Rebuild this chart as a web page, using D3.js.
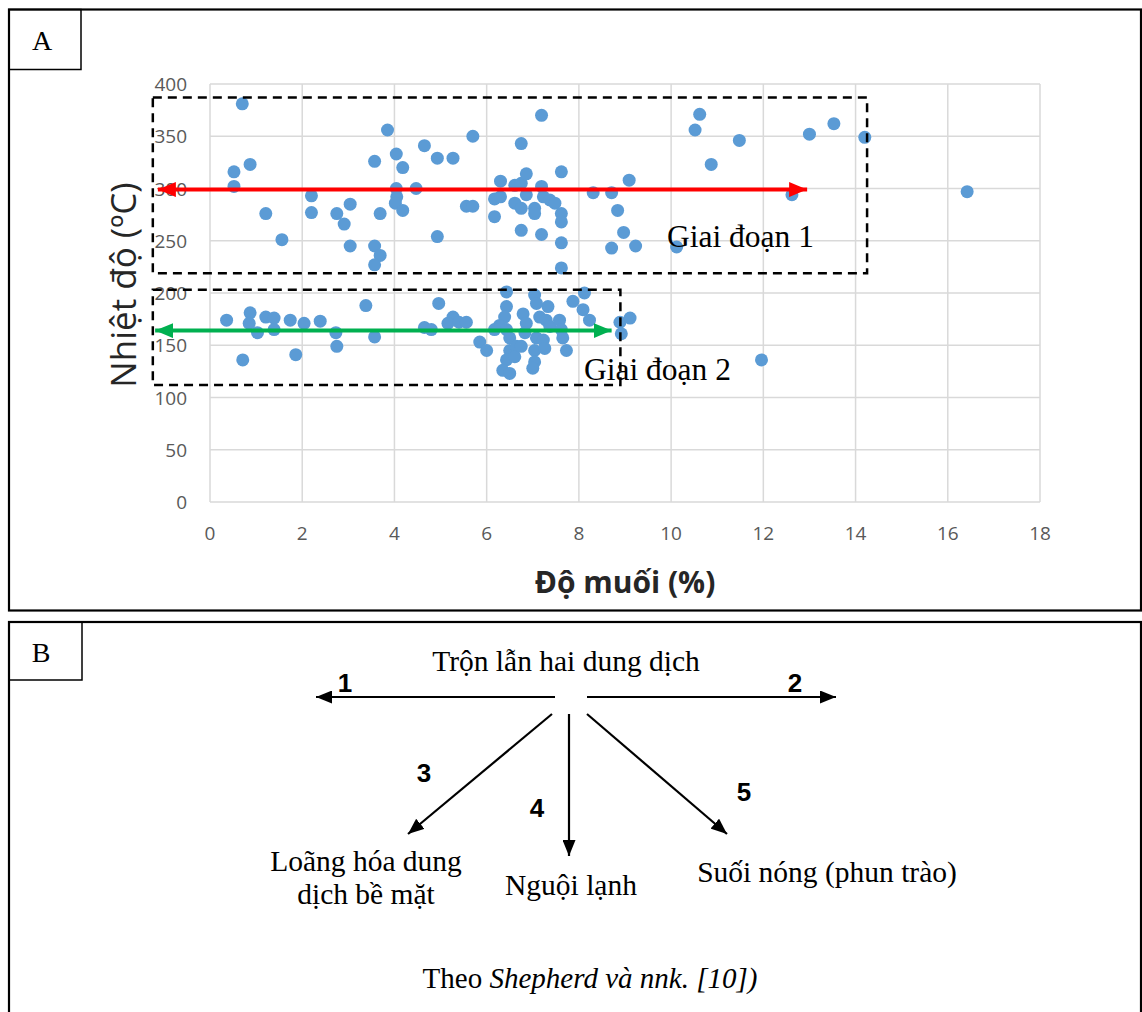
<!DOCTYPE html>
<html><head><meta charset="utf-8">
<script src="https://cdn.jsdelivr.net/npm/d3@7"></script>
<style>body{margin:0;background:#fff}svg{display:block}</style>
</head><body>
<svg id="c" width="1142" height="1012"></svg>
<script>
// ---- data ----
const xTicks = [0,2,4,6,8,10,12,14,16,18];
const yTicks = [0,50,100,150,200,250,300,350,400];
const stage1Salinity = [0.70,0.87,0.52,0.52,1.21,1.56,2.20,2.20,2.75,2.91,3.04,3.04,3.57,3.57,3.69,3.57,3.69,3.85,4.04,4.18,4.04,4.05,4.02,4.18,4.47,4.65,4.93,4.93,5.27,5.70,5.56,5.70,6.30,6.17,6.17,6.30,6.61,6.75,6.86,6.75,7.19,6.61,6.75,6.86,7.04,7.04,7.19,7.23,7.37,7.48,7.62,7.62,7.62,6.75,7.19,7.62,7.62,8.31,8.71,9.09,8.84,8.97,8.71,9.23,10.12,10.62,10.52,11.48,10.87,13.0,13.53,14.2,12.62,16.42];
const stage1Temp = [381,323,316,302,276,251,293,277,276,266,285,245,326,245,236,227,276,356,333,320,300,292,286,279,300,341,329,254,329,350,283,283,307,273,290,292,303,305,314,343,370,286,281,294,281,276,302,292,289,286,316,276,268,260,256,248,224,296,296,308,279,258,243,245,244,371,356,346,323,352,362,349,294,297];
const stage2Salinity = [0.36,0.71,0.87,0.85,1.03,1.21,1.39,1.39,1.74,1.86,2.04,2.39,2.73,2.75,3.38,3.57,4.65,4.80,4.96,5.27,5.16,5.40,5.56,5.85,6.00,6.43,6.43,6.39,6.28,6.17,6.43,6.50,6.50,6.43,6.35,6.50,6.65,6.61,6.79,6.86,6.83,6.75,7.08,7.04,7.04,7.00,7.04,7.08,7.15,7.33,7.29,7.37,7.23,7.26,7.58,7.62,7.65,7.73,7.87,8.12,8.09,8.23,8.89,9.11,8.92,11.96];
const stage2Temp = [174,136,181,171,162,177,176,165,174,141,171,173,162,149,188,158,167,165,190,177,171,172,172,153,145,201,187,177,169,165,165,157,145,136,126,123,149,139,180,171,162,149,157,145,134,128,198,190,177,187,174,168,155,147,174,165,157,145,192,200,184,174,172,176,161,136];
// annotation boxes (data units) and arrows
const boxStage1 = [-1.24, 14.25, 219, 387];
const boxStage2 = [-1.24, 8.9, 112, 203];
const redArrow = [-1.13, 12.95, 299];
const greenArrow = [-1.19, 8.71, 164];
const stageLabels = ["Giai đoạn 1","Giai đoạn 2"];

const svg = d3.select("#c");
const defs = svg.append("defs");
function marker(id, color, w, h){
  defs.append("marker").attr("id",id).attr("viewBox",`0 0 ${w} ${h}`)
    .attr("refX",w).attr("refY",h/2).attr("markerWidth",w).attr("markerHeight",h)
    .attr("markerUnits","userSpaceOnUse").attr("orient","auto-start-reverse")
    .append("path").attr("d",`M0,0L${w},${h/2}L0,${h}Z`).attr("fill",color);
}
marker("mr","#ff0000",18,15);
marker("mg","#00b050",18,15);
marker("mk","#000000",16,13);

// panels
svg.append("rect").attr("x",9).attr("y",9.5).attr("width",1132).attr("height",601).attr("fill","none").attr("stroke","#000").attr("stroke-width",2.2);
svg.append("rect").attr("x",9).attr("y",9.5).attr("width",72).attr("height",60).attr("fill","none").attr("stroke","#000").attr("stroke-width",1.5);
svg.append("text").attr("x",42).attr("y",50).attr("text-anchor","middle").attr("font-family","Liberation Serif").attr("font-size",28).text("A");

svg.append("rect").attr("x",9).attr("y",622).attr("width",1132).attr("height",420).attr("fill","none").attr("stroke","#000").attr("stroke-width",2.2);
svg.append("rect").attr("x",9).attr("y",622).attr("width",73).attr("height",58).attr("fill","none").attr("stroke","#000").attr("stroke-width",1.5);
svg.append("text").attr("x",41).attr("y",662).attr("text-anchor","middle").attr("font-family","Liberation Serif").attr("font-size",28).text("B");

// chart
const x = d3.scaleLinear().domain([0,18]).range([210,1040]);
const y = d3.scaleLinear().domain([0,400]).range([502,84]);
const g = svg.append("g");
g.append("g").selectAll("line").data(yTicks).join("line")
  .attr("x1",x(0)).attr("x2",x(18)).attr("y1",d=>y(d)).attr("y2",d=>y(d))
  .attr("stroke","#d9d9d9").attr("stroke-width",1.5);
g.append("g").selectAll("line").data(xTicks).join("line")
  .attr("y1",y(0)).attr("y2",y(400)).attr("x1",d=>x(d)).attr("x2",d=>x(d))
  .attr("stroke","#d9d9d9").attr("stroke-width",1.5);
g.append("g").selectAll("text").data(yTicks).join("text")
  .attr("x",187).attr("y",d=>y(d)+7).attr("text-anchor","end")
  .attr("font-family","Open Sans").attr("font-size",19).attr("fill","#595959").text(d=>d);
g.append("g").selectAll("text").data(xTicks).join("text")
  .attr("x",d=>x(d)).attr("y",540).attr("text-anchor","middle")
  .attr("font-family","Open Sans").attr("font-size",19).attr("fill","#595959").text(d=>d);
svg.append("text").attr("transform",`translate(136,285) rotate(-90)`).attr("text-anchor","middle")
  .attr("font-family","Open Sans").attr("font-size",35).attr("fill","#262626").text("Nhiệt độ (ºC)");
svg.append("text").attr("x",625).attr("y",593).attr("text-anchor","middle")
  .attr("font-family","Open Sans").attr("font-weight","bold").attr("font-size",30).attr("fill","#262626").text("Độ muối (%)");

const pts = stage1Salinity.map((s,i)=>[s,stage1Temp[i]]).concat(stage2Salinity.map((s,i)=>[s,stage2Temp[i]]));
g.append("g").selectAll("circle").data(pts).join("circle")
  .attr("cx",d=>x(d[0])).attr("cy",d=>y(d[1])).attr("r",6.5).attr("fill","#5b9bd5");

// annotation boxes
[boxStage1, boxStage2].forEach(b=>{
  svg.append("rect").attr("x",x(b[0])).attr("y",y(b[3])).attr("width",x(b[1])-x(b[0])).attr("height",y(b[2])-y(b[3]))
    .attr("fill","none").attr("stroke","#000").attr("stroke-width",2.5).attr("stroke-dasharray","9,6");
});
[[redArrow,"#ff0000","mr"],[greenArrow,"#00b050","mg"]].forEach(([a,c,m])=>{
  svg.append("line").attr("x1",x(a[0])).attr("x2",x(a[1])).attr("y1",y(a[2])).attr("y2",y(a[2]))
    .attr("stroke",c).attr("stroke-width",4).attr("marker-start",`url(#${m})`).attr("marker-end",`url(#${m})`);
});
svg.append("text").attr("x",667).attr("y",247).attr("font-family","Liberation Serif").attr("font-size",31.5).text(stageLabels[0]);
svg.append("text").attr("x",584).attr("y",380).attr("font-family","Liberation Serif").attr("font-size",31.5).text(stageLabels[1]);

// panel B diagram
const serif = "Liberation Serif";
svg.append("text").attr("x",566).attr("y",671).attr("text-anchor","middle").attr("font-family",serif).attr("font-size",29.5).text("Trộn lẫn hai dung dịch");
const arrowsB = [[555,697,316,697],[587,697,836,697],[552,714,408,834],[569,714,569,856],[587,714,727,834]];
svg.append("g").selectAll("line").data(arrowsB).join("line")
  .attr("x1",d=>d[0]).attr("y1",d=>d[1]).attr("x2",d=>d[2]).attr("y2",d=>d[3])
  .attr("stroke","#000").attr("stroke-width",2.2).attr("marker-end","url(#mk)");
const nums = [["1",345,692],["2",795,692],["3",424,782],["4",537,817],["5",744,801]];
svg.append("g").selectAll("text").data(nums).join("text")
  .attr("x",d=>d[1]).attr("y",d=>d[2]).attr("text-anchor","middle")
  .attr("font-family","Liberation Sans").attr("font-weight","bold").attr("font-size",26).text(d=>d[0]);
const labelsB = [["Loãng hóa dung",366,871],["dịch bề mặt",366,904],["Nguội lạnh",571,895],["Suối nóng (phun trào)",827,882]];
svg.append("g").selectAll("text").data(labelsB).join("text")
  .attr("x",d=>d[1]).attr("y",d=>d[2]).attr("text-anchor","middle")
  .attr("font-family",serif).attr("font-size",29.5).text(d=>d[0]);
const cite = svg.append("text").attr("x",590).attr("y",988).attr("text-anchor","middle").attr("font-family",serif).attr("font-size",29);
cite.append("tspan").text("Theo ");
cite.append("tspan").attr("font-style","italic").text("Shepherd và nnk. [10])");
</script>
</body></html>
